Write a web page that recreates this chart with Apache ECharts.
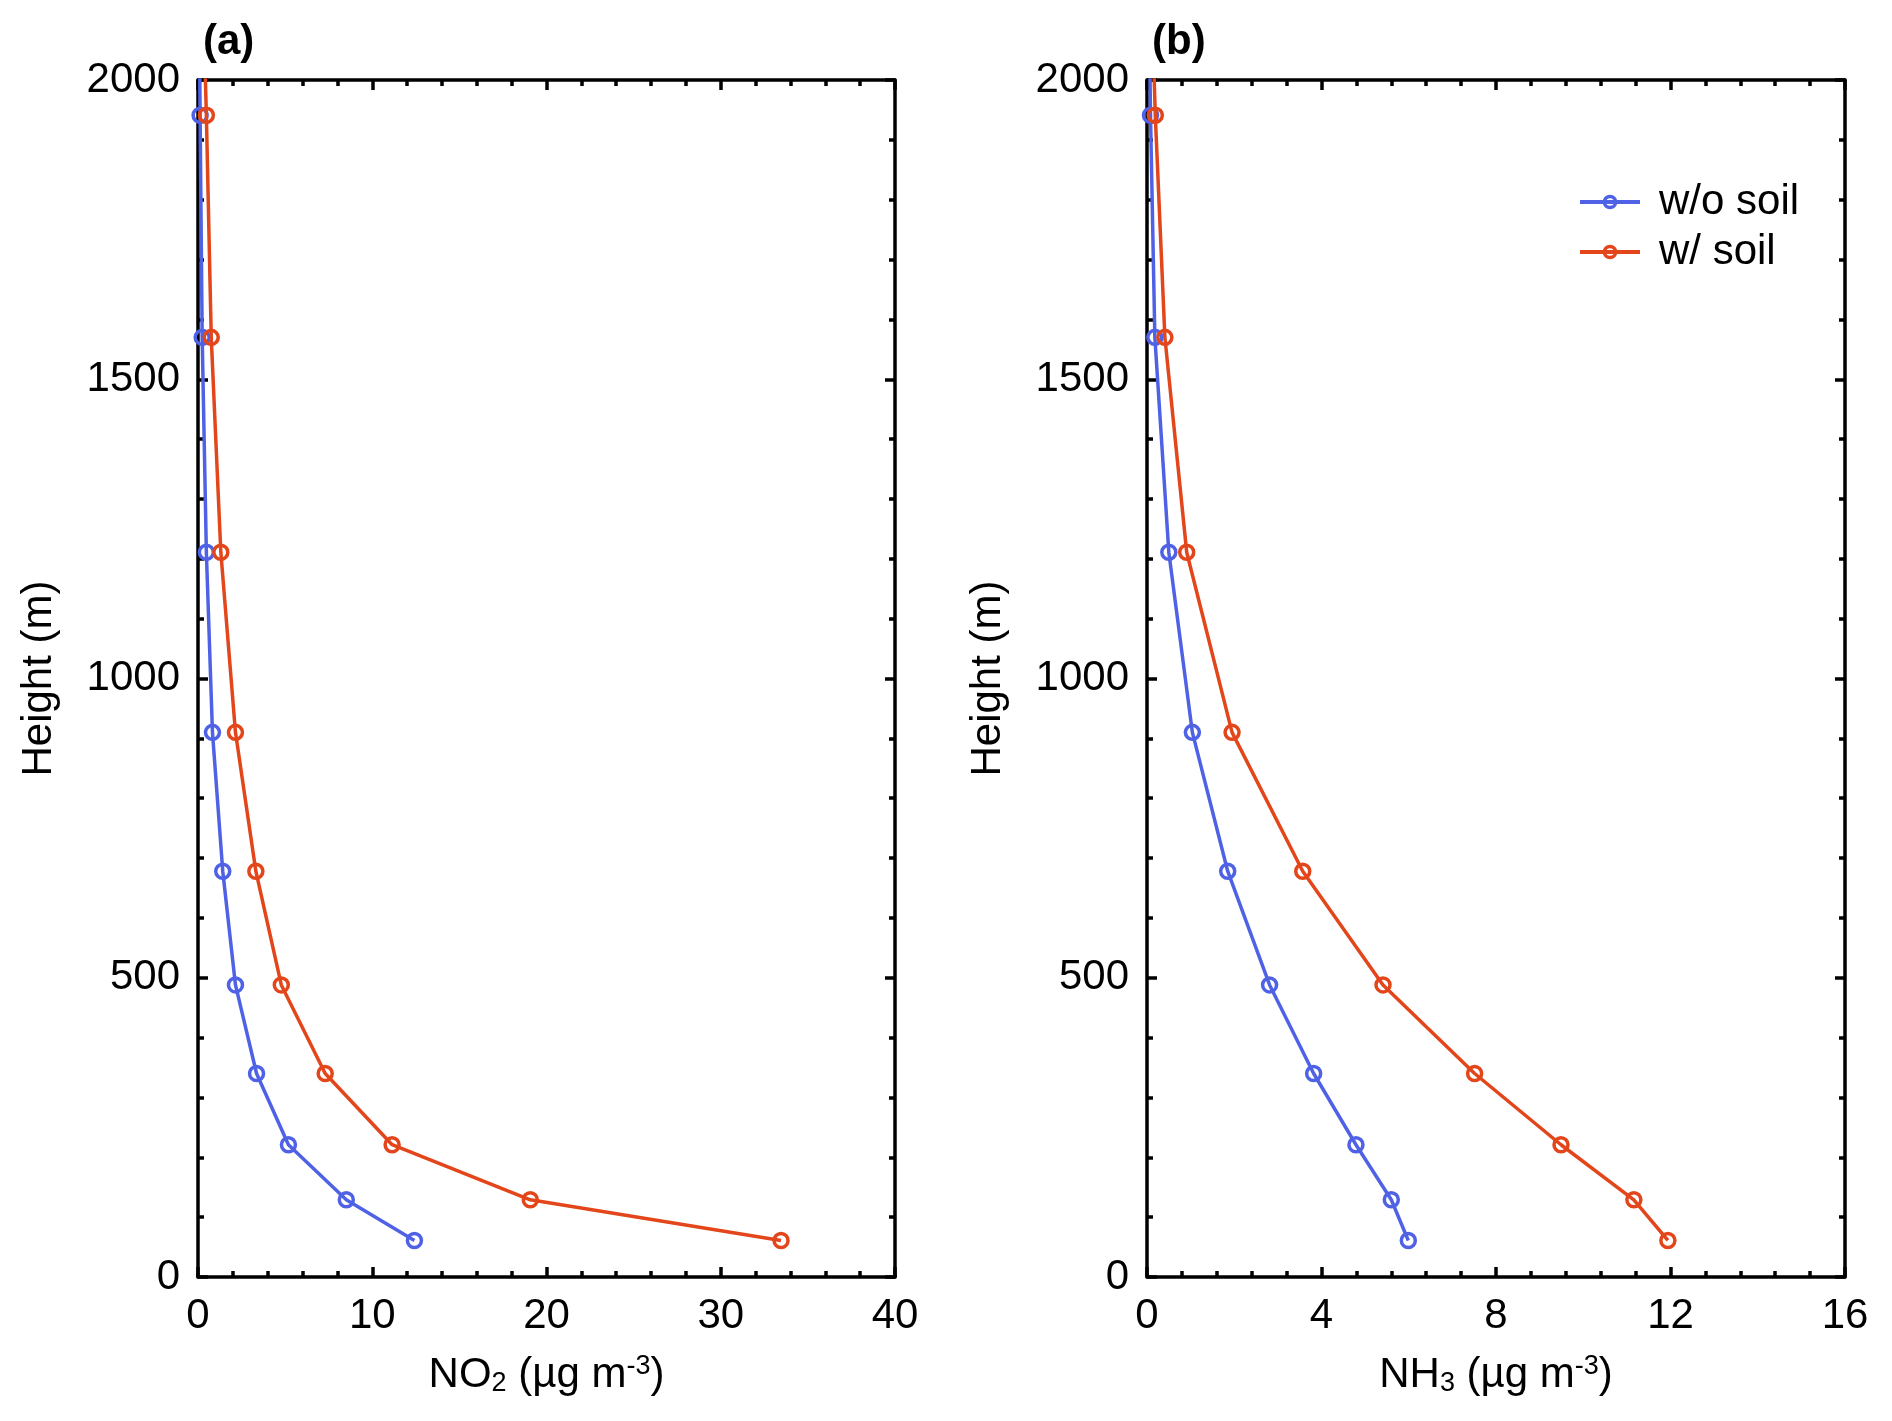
<!DOCTYPE html>
<html>
<head>
<meta charset="utf-8">
<script src="https://cdn.jsdelivr.net/npm/echarts@6/dist/echarts.min.js"></script>
<style>
html,body{margin:0;padding:0;background:#fff;}
#chart{width:1892px;height:1421px;}
</style>
</head>
<body>
<div id="chart"></div>
<script>
// Data
var heights = [61, 129, 221, 340, 488, 678, 910, 1211, 1570, 1941, 2300];
var no2WithoutSoil = [12.42, 8.51, 5.19, 3.36, 2.15, 1.42, 0.83, 0.48, 0.24, 0.12, 0.03];
var no2WithSoil = [33.46, 19.07, 11.14, 7.30, 4.78, 3.32, 2.15, 1.31, 0.76, 0.48, 0.15];
var nh3WithoutSoil = [5.99, 5.60, 4.79, 3.82, 2.81, 1.85, 1.04, 0.50, 0.18, 0.08, 0.02];
var nh3WithSoil = [11.94, 11.16, 9.49, 7.51, 5.41, 3.57, 1.95, 0.91, 0.41, 0.19, 0.04];
var seriesNames = ['w/o soil', 'w/ soil'];
var panelLabels = ['(a)', '(b)'];
var heightTicks = [0, 500, 1000, 1500, 2000];
var no2Ticks = [0, 10, 20, 30, 40];
var nh3Ticks = [0, 4, 8, 12, 16];

var FONT = 'Liberation Sans';
var FS = 42;
var BLUE = '#4f62e6';
var ORANGE = '#e2461a';

function pairs(xs) { return xs.map(function (v, i) { return [v, heights[i]]; }); }

var chart = echarts.init(document.getElementById('chart'), null, {renderer: 'canvas'});

var grids = [
  {left: 198, top: 80, width: 697, height: 1197, outerBoundsMode: 'none', containLabel: false},
  {left: 1147, top: 80, width: 698, height: 1197, outerBoundsMode: 'none', containLabel: false}
];

var axisLineStyle = {show: true, lineStyle: {color: '#000', width: 3.5}};
function plain(v) { return String(v); }
function xAxisDef(gi, ticks, name, isTop) {
  return {
    type: 'value', gridIndex: gi, position: isTop ? 'top' : 'bottom',
    min: ticks[0], max: ticks[ticks.length - 1], interval: ticks[1] - ticks[0],
    axisLine: Object.assign({onZero: false}, axisLineStyle),
    axisTick: {show: true, inside: true, length: 10, lineStyle: {color: '#000', width: 3.5}},
    minorTick: {show: true, splitNumber: 5, length: 6, lineStyle: {color: '#000', width: 3.5}},
    splitLine: {show: false},
    axisLabel: {show: !isTop, fontFamily: FONT, fontSize: FS, color: '#000', margin: 18,
      showMinLabel: true, showMaxLabel: true, formatter: plain},
    name: isTop ? '' : name,
    nameLocation: 'middle', nameGap: 76,
    nameTextStyle: {fontFamily: FONT, fontSize: FS, color: '#000',
      rich: {
        n: {fontFamily: FONT, fontSize: FS, color: '#000'},
        sub: {fontFamily: FONT, fontSize: 27, color: '#000', padding: [16, 0, 0, 0]},
        sup: {fontFamily: FONT, fontSize: 27, color: '#000', padding: [0, 0, 18, 0]}
      }}
  };
}
function yAxisDef(gi, isRight) {
  return {
    type: 'value', gridIndex: gi, position: isRight ? 'right' : 'left',
    min: heightTicks[0], max: heightTicks[heightTicks.length - 1], interval: heightTicks[1] - heightTicks[0],
    axisLine: Object.assign({onZero: false}, axisLineStyle),
    axisTick: {show: true, inside: true, length: 10, lineStyle: {color: '#000', width: 3.5}},
    minorTick: {show: true, splitNumber: 5, length: 6, lineStyle: {color: '#000', width: 3.5}},
    splitLine: {show: false},
    axisLabel: {show: !isRight, fontFamily: FONT, fontSize: FS, color: '#000', margin: 18, formatter: plain},
    name: isRight ? '' : 'Height (m)',
    nameLocation: 'middle', nameGap: 138, nameRotate: 90,
    nameTextStyle: {fontFamily: FONT, fontSize: FS, color: '#000'}
  };
}

var no2Name = '{n|NO}{sub|2}{n| (µg m}{sup|-3}{n|)}';
var nh3Name = '{n|NH}{sub|3}{n| (µg m}{sup|-3}{n|)}';

function lineSeries(name, color, data, xi, yi) {
  return {
    type: 'line', name: name, xAxisIndex: xi, yAxisIndex: yi,
    data: data, clip: true, smooth: false,
    symbol: 'circle', symbolSize: 14, showAllSymbol: true,
    lineStyle: {color: color, width: 3.5},
    itemStyle: {color: 'rgba(255,255,255,0)', borderColor: color, borderWidth: 3.5},
    emphasis: {disabled: true},
    z: name === seriesNames[1] ? 3 : 2
  };
}

var option = {
  backgroundColor: '#fff',
  animation: false,
  color: [BLUE, ORANGE],
  title: [
    {text: panelLabels[0], left: 198, top: 16, textStyle: {fontFamily: FONT, fontSize: FS, fontWeight: 'bold', color: '#000'}},
    {text: panelLabels[1], left: 1147, top: 16, textStyle: {fontFamily: FONT, fontSize: FS, fontWeight: 'bold', color: '#000'}}
  ],
  grid: grids,
  xAxis: [
    xAxisDef(0, no2Ticks, no2Name, false),
    xAxisDef(0, no2Ticks, '', true),
    xAxisDef(1, nh3Ticks, nh3Name, false),
    xAxisDef(1, nh3Ticks, '', true)
  ],
  yAxis: [
    yAxisDef(0, false),
    yAxisDef(0, true),
    yAxisDef(1, false),
    yAxisDef(1, true)
  ],
  legend: {
    show: true, orient: 'vertical', left: 1573, top: 176,
    itemWidth: 60, itemHeight: 14, itemGap: 8,
    data: seriesNames,
    itemStyle: {borderWidth: 3.5},
    lineStyle: {width: 4},
    textStyle: {fontFamily: FONT, fontSize: FS, color: '#000', padding: [0, 0, 0, 14]},
    selectedMode: false
  },
  series: [
    lineSeries(seriesNames[0], BLUE, pairs(no2WithoutSoil), 0, 0),
    lineSeries(seriesNames[1], ORANGE, pairs(no2WithSoil), 0, 0),
    lineSeries(seriesNames[0], BLUE, pairs(nh3WithoutSoil), 2, 2),
    lineSeries(seriesNames[1], ORANGE, pairs(nh3WithSoil), 2, 2)
  ]
};
chart.setOption(option);
</script>
</body>
</html>
